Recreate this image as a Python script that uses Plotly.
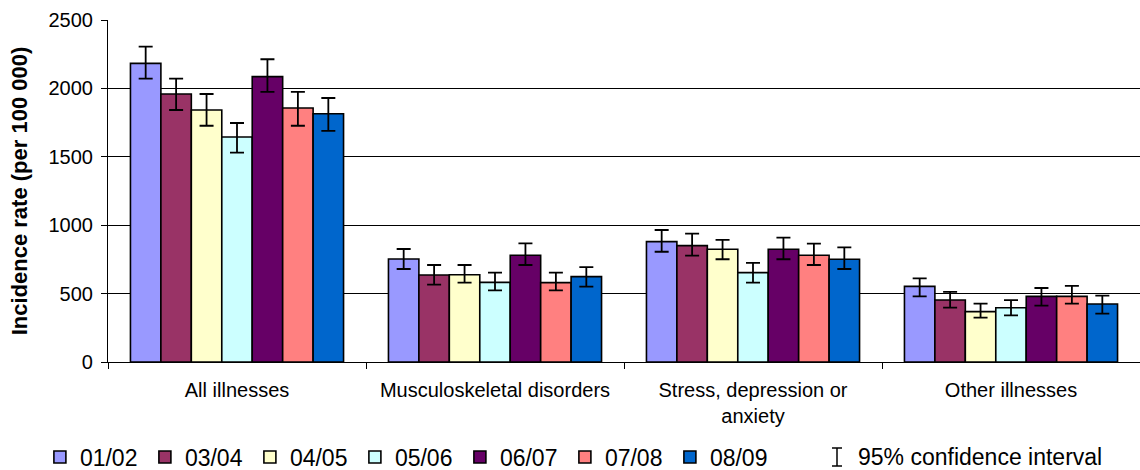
import plotly.graph_objects as go

# Illness categories shown along the x axis
categories = ["All illnesses", "Musculoskeletal disorders",
              "Stress, depression or<br>anxiety", "Other illnesses"]

# Survey years
years = ["01/02", "03/04", "04/05", "05/06", "06/07", "07/08", "08/09"]

# Incidence rate (per 100 000) by year, one value per category
rate_0102 = [2183, 753, 880, 553]
rate_0304 = [1959, 636, 851, 453]
rate_0405 = [1842, 638, 824, 368]
rate_0506 = [1645, 582, 653, 397]
rate_0607 = [2086, 780, 824, 480]
rate_0708 = [1857, 580, 780, 480]
rate_0809 = [1815, 624, 751, 424]

# 95% confidence interval bounds (upper, lower)
upper_0102 = [2305, 826, 965, 612]
lower_0102 = [2071, 680, 806, 480]
upper_0304 = [2071, 709, 938, 512]
lower_0304 = [1842, 565, 777, 397]
upper_0405 = [1959, 709, 892, 426]
lower_0405 = [1727, 580, 751, 324]
upper_0506 = [1747, 653, 724, 453]
lower_0506 = [1530, 524, 580, 341]
upper_0607 = [2213, 867, 909, 541]
lower_0607 = [1974, 709, 751, 412]
upper_0708 = [1974, 653, 865, 556]
lower_0708 = [1727, 524, 709, 426]
upper_0809 = [1930, 694, 838, 485]
lower_0809 = [1689, 551, 680, 353]

colors = ["#9999FF", "#993366", "#FFFFCC", "#CCFFFF", "#660066", "#FF8080", "#0066CC"]

rates = [rate_0102, rate_0304, rate_0405, rate_0506, rate_0607, rate_0708, rate_0809]
uppers = [upper_0102, upper_0304, upper_0405, upper_0506, upper_0607, upper_0708, upper_0809]
lowers = [lower_0102, lower_0304, lower_0405, lower_0506, lower_0607, lower_0708, lower_0809]

FONT = "Liberation Sans, Arial, sans-serif"

fig = go.Figure()
for name, vals, up, lo, col in zip(years, rates, uppers, lowers, colors):
    fig.add_trace(go.Bar(
        name=name,
        x=categories,
        y=vals,
        marker=dict(color=col, line=dict(color="black", width=1.6)),
        error_y=dict(
            type="data", symmetric=False,
            array=[u - v for u, v in zip(up, vals)],
            arrayminus=[v - l for v, l in zip(vals, lo)],
            color="black", thickness=1.8, width=7,
        ),
    ))

W, H = 1140, 470
L, R, T, B = 108, 0, 20, 108
pw = W - L - R
ph = H - T - B

def px(xp):
    return (xp - L) / pw

def py(yp):
    return (H - B - yp) / ph

# Confidence-interval key glyph next to its legend text
cx, ytop, ybot, cap = 837, 448, 466, 5
shapes = [
    dict(type="line", xref="paper", yref="paper", x0=px(cx), x1=px(cx), y0=py(ytop), y1=py(ybot),
         line=dict(color="black", width=1.5)),
    dict(type="line", xref="paper", yref="paper", x0=px(cx - cap), x1=px(cx + cap), y0=py(ytop), y1=py(ytop),
         line=dict(color="black", width=1.5)),
    dict(type="line", xref="paper", yref="paper", x0=px(cx - cap), x1=px(cx + cap), y0=py(ybot), y1=py(ybot),
         line=dict(color="black", width=1.5)),
]

fig.update_layout(
    width=W, height=H,
    margin=dict(l=L, r=R, t=T, b=B),
    paper_bgcolor="white", plot_bgcolor="white",
    font=dict(family=FONT, color="black", size=20),
    barmode="group", bargap=0.174, bargroupgap=0,
    showlegend=True,
    legend=dict(
        orientation="h", xref="container", yref="container",
        x=0.035, y=(H - 457) / H, xanchor="left", yanchor="middle",
        font=dict(size=23, family=FONT),
        entrywidth=60, entrywidthmode="pixels",
        itemclick=False, itemdoubleclick=False,
        bgcolor="rgba(0,0,0,0)",
    ),
    xaxis=dict(
        showline=True, linecolor="black", linewidth=1.2,
        ticks="outside", tickson="boundaries", ticklen=6, tickcolor="black",
        tickfont=dict(size=20), showgrid=False, ticklabelstandoff=10,
    ),
    yaxis=dict(
        range=[0, 2500], dtick=500, tick0=0,
        showline=True, linecolor="black", linewidth=1.2,
        ticks="outside", ticklen=6, tickcolor="black",
        showgrid=True, gridcolor="black", gridwidth=1,
        tickfont=dict(size=20), ticklabelstandoff=4,
        title=dict(text="<b>Incidence rate (per 100 000)</b>", font=dict(size=22), standoff=14),
        zeroline=False,
    ),
    shapes=shapes,
    annotations=[dict(
        text="95% confidence interval", xref="paper", yref="paper",
        x=px(856), y=py(457), xanchor="left", yanchor="middle",
        showarrow=False, font=dict(size=23, family=FONT),
    )],
)

fig.write_html("out.html")
